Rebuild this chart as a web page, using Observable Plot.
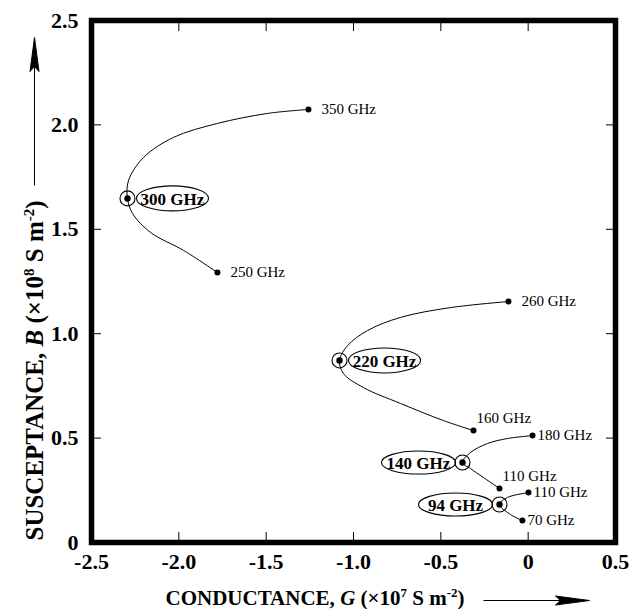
<!DOCTYPE html>
<html><head><meta charset="utf-8">
<script src="https://cdn.jsdelivr.net/npm/d3@7"></script>
<script src="https://cdn.jsdelivr.net/npm/@observablehq/plot@0.6"></script>
<style>body{margin:0;background:#fff} #chart{width:644px;height:609px}</style>
</head><body><div id="chart"></div>
<script>
// ---- data ----
const xTicks = [-2.5, -2.0, -1.5, -1.0, -0.5, 0, 0.5];
const xTickLabels = ["-2.5", "-2.0", "-1.5", "-1.0", "-0.5", "0", "0.5"];
const yTicks = [0, 0.5, 1.0, 1.5, 2.0, 2.5];
const yTickLabels = ["0", "0.5", "1.0", "1.5", "2.0", "2.5"];

// traced admittance loci (G ×1e7 S/m², B ×1e8 S/m²)
const curve300G = [-1.779, -1.973, -2.162, -2.265, -2.294, -2.288, -2.202, -2.031, -1.779, -1.492, -1.258];
const curve300B = [1.293, 1.399, 1.485, 1.576, 1.648, 1.734, 1.844, 1.940, 2.007, 2.055, 2.074];
const curve220G = [-0.313, -0.485, -0.731, -0.943, -1.057, -1.080, -1.034, -0.920, -0.731, -0.445, -0.113];
const curve220B = [0.536, 0.584, 0.666, 0.742, 0.809, 0.872, 0.943, 1.015, 1.078, 1.125, 1.154];
const curve140G = [-0.164, -0.256, -0.330, -0.376, -0.330, -0.233, -0.118, 0.025];
const curve140B = [0.259, 0.311, 0.354, 0.383, 0.431, 0.474, 0.498, 0.512];
const curve94G = [-0.033, -0.101, -0.164, -0.118, 0.002];
const curve94B = [0.105, 0.134, 0.182, 0.216, 0.239];

const centerLabels = ["300 GHz", "220 GHz", "140 GHz", "94 GHz"];
const centerG = [-2.294, -1.080, -0.376, -0.164];
const centerB = [1.648, 0.872, 0.383, 0.182];
const centerSide = ["right", "right", "left", "left"];

const endLabels = ["350 GHz", "250 GHz", "260 GHz", "160 GHz", "180 GHz", "110 GHz", "110 GHz", "70 GHz"];
const endG = [-1.258, -1.779, -0.113, -0.313, 0.025, -0.164, 0.002, -0.033];
const endB = [2.074, 1.293, 1.154, 0.536, 0.512, 0.259, 0.239, 0.105];
const endPlace = ["right", "right", "right", "above", "near", "above", "near", "near"];

// ---- tables built from the arrays ----
const curves = [
  [curve300G, curve300B, "300"], [curve220G, curve220B, "220"],
  [curve140G, curve140B, "140"], [curve94G, curve94B, "94"]
].flatMap(([g, b, id]) => g.map((v, i) => ({G: v, B: b[i], id})));
const centers = centerLabels.map((l, i) => ({label: l, G: centerG[i], B: centerB[i], side: centerSide[i]}));
const ends = endLabels.map((l, i) => ({label: l, G: endG[i], B: endB[i], place: endPlace[i]}));

const serif = "Liberation Serif, Times New Roman, serif";

function ellipseSymbol(rx, ry) {
  const k = 0.5523;
  return {draw(c) {
    c.moveTo(rx, 0);
    c.bezierCurveTo(rx, ry * k, rx * k, ry, 0, ry);
    c.bezierCurveTo(-rx * k, ry, -rx, ry * k, -rx, 0);
    c.bezierCurveTo(-rx, -ry * k, -rx * k, -ry, 0, -ry);
    c.bezierCurveTo(rx * k, -ry, rx, -ry * k, rx, 0);
    c.closePath();
  }};
}
function arrowSymbol(len, horizontal) {
  return {draw(c) {
    const p = (a, b) => horizontal ? [a, b] : [b, -a];
    c.moveTo(...p(0, 0)); c.lineTo(...p(len - 28, 0));
    c.moveTo(...p(len - 34, -4.5)); c.lineTo(...p(len, 0)); c.lineTo(...p(len - 34, 4.5)); c.lineTo(...p(len - 29, 0));
    c.closePath();
  }};
}

const tickFmtX = d => xTickLabels[xTicks.indexOf(d)];
const tickFmtY = d => yTickLabels[yTicks.indexOf(d)];

const xTitle = "CONDUCTANCE, G (×10^7 S m^-2)";
const yTitle = "SUSCEPTANCE, B (×10^8 S m^-2)";

const chart = Plot.plot({
  width: 644, height: 609,
  marginLeft: 91, marginRight: 29, marginTop: 20, marginBottom: 67,
  style: {fontFamily: serif, background: "white", color: "black"},
  x: {domain: [-2.5, 0.5], axis: null},
  y: {domain: [0, 2.5], axis: null},
  marks: [
    // inward ticks on all four sides
    Plot.axisX(xTicks, {anchor: "bottom", tickSize: 10, dy: -10, tickFormat: () => "", label: null, strokeWidth: 1}),
    Plot.axisX(xTicks, {anchor: "top", tickSize: 10, dy: 10, tickFormat: () => "", label: null, strokeWidth: 1}),
    Plot.axisY(yTicks, {anchor: "left", tickSize: 10, dx: 10, tickFormat: () => "", label: null, strokeWidth: 1}),
    Plot.axisY(yTicks, {anchor: "right", tickSize: 10, dx: -10, tickFormat: () => "", label: null, strokeWidth: 1}),
    // tick labels
    Plot.axisX(xTicks, {anchor: "bottom", tickSize: 0, tickPadding: 11, tickFormat: tickFmtX, label: null,
      fontSize: 22, fontWeight: "bold", fontFamily: serif}),
    Plot.axisY(yTicks, {anchor: "left", tickSize: 0, tickPadding: 13, tickFormat: tickFmtY, label: null,
      fontSize: 22, fontWeight: "bold", fontFamily: serif}),
    // loci
    Plot.line(curves, {x: "G", y: "B", z: "id", curve: "catmull-rom", stroke: "black", strokeWidth: 1}),
    // end points
    Plot.dot(ends, {x: "G", y: "B", r: 3, fill: "black", stroke: "none"}),
    Plot.text(ends.filter(d => d.place === "right"), {x: "G", y: "B", text: "label", textAnchor: "start", dx: 13,
      fontSize: 15, fontFamily: serif}),
    Plot.text(ends.filter(d => d.place === "near"), {x: "G", y: "B", text: "label", textAnchor: "start", dx: 5,
      fontSize: 15, fontFamily: serif}),
    Plot.text(ends.filter(d => d.place === "above"), {x: "G", y: "B", text: "label", textAnchor: "start", dx: 3, dy: -12,
      fontSize: 15, fontFamily: serif}),
    // resonance points
    Plot.dot(centers, {x: "G", y: "B", r: 7.5, stroke: "black", strokeWidth: 1.1, fill: "none"}),
    Plot.dot(centers, {x: "G", y: "B", r: 3.2, fill: "black", stroke: "none"}),
    Plot.dot(centers.filter(d => d.side === "right"), {x: "G", y: "B", dx: 45, symbol: ellipseSymbol(36, 12.5),
      stroke: "black", strokeWidth: 1.1, fill: "none"}),
    Plot.dot(centers.filter(d => d.side === "left"), {x: "G", y: "B", dx: -44, symbol: ellipseSymbol(37, 11.5),
      stroke: "black", strokeWidth: 1.1, fill: "none"}),
    Plot.text(centers.filter(d => d.side === "right"), {x: "G", y: "B", text: "label", dx: 45, dy: 1,
      fontSize: 17, fontWeight: "bold", fontFamily: serif}),
    Plot.text(centers.filter(d => d.side === "left"), {x: "G", y: "B", text: "label", dx: -44, dy: 1,
      fontSize: 17, fontWeight: "bold", fontFamily: serif}),
    // axis titles with arrows
    Plot.text([xTitle], {frameAnchor: "bottom-left", dx: 74, dy: 56, text: d => d, textAnchor: "start",
      lineAnchor: "middle", fontSize: 21, fontWeight: "bold", fontFamily: serif}),
    Plot.text([yTitle], {frameAnchor: "bottom-left", dx: -57, dy: -2, text: d => d, textAnchor: "start", rotate: -90,
      lineAnchor: "middle", fontSize: 25, fontWeight: "bold", fontFamily: serif}),
    Plot.dot([xTitle], {frameAnchor: "bottom-left", dx: 392, dy: 58, symbol: arrowSymbol(106, true),
      fill: "black", stroke: "black", strokeWidth: 1}),
    Plot.dot([yTitle], {frameAnchor: "top-left", dx: -57, dy: 165, symbol: arrowSymbol(148, false),
      fill: "black", stroke: "black", strokeWidth: 1}),
    Plot.frame({stroke: "black", strokeWidth: 5.5})
  ]
});

// rich text (italic symbol, superscripts) for the two axis titles
function richify(svg, plain, sup) {
  d3.select(svg).selectAll("text").filter(function () { return this.textContent === plain; }).each(function () {
    const t = d3.select(this);
    t.text(null);
    const m = plain.match(/^(.*), (\w) \(×10\^(\d) S m\^(-2)\)$/);
    t.append("tspan").text(m[1] + ", ");
    t.append("tspan").attr("font-style", "italic").text(m[2]);
    t.append("tspan").text(" (×10");
    t.append("tspan").attr("font-size", sup.size).attr("dy", -sup.shift).text(m[3]);
    t.append("tspan").attr("dy", sup.shift).text(" S m");
    t.append("tspan").attr("font-size", sup.size).attr("dy", -sup.shift).text(m[4]);
    t.append("tspan").attr("dy", sup.shift).text(")");
  });
}
richify(chart, xTitle, {size: 13, shift: 8});
richify(chart, yTitle, {size: 15, shift: 9});
document.getElementById("chart").appendChild(chart);
</script>
</body></html>
